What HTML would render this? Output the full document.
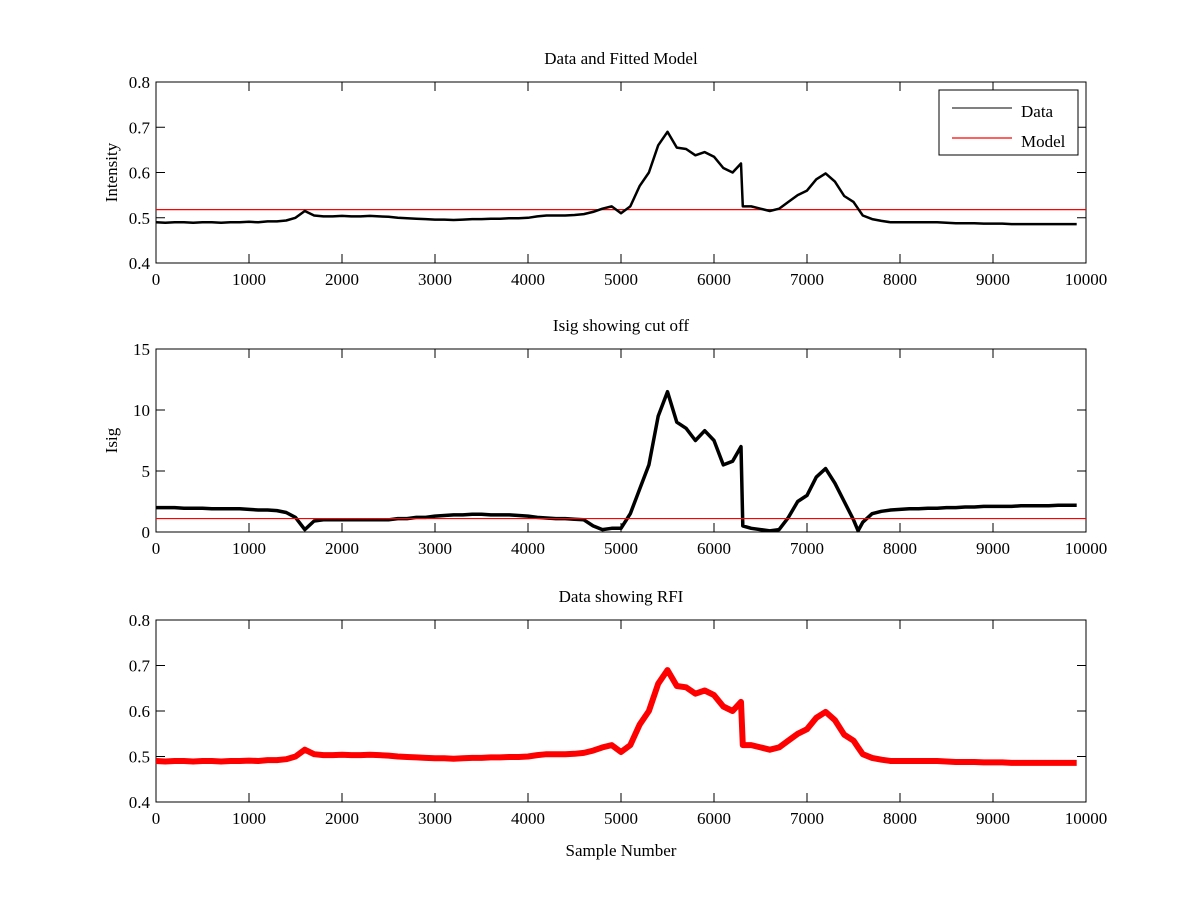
<!DOCTYPE html>
<html><head><meta charset="utf-8"><style>
body{margin:0;background:#fff}
svg text{font-family:"Liberation Serif",serif;font-size:17px;fill:#000}
</style></head><body>
<svg id="fig" width="1200" height="900" xmlns="http://www.w3.org/2000/svg"></svg>
<script>
const xs=[0,100,200,300,400,500,600,700,800,900,1000,1100,1200,1300,1400,1500,1600,1700,1800,1900,2000,2100,2200,2300,2400,2500,2600,2700,2800,2900,3000,3100,3200,3300,3400,3500,3600,3700,3800,3900,4000,4100,4200,4300,4400,4500,4600,4700,4800,4900,5000,5100,5200,5300,5400,5500,5600,5700,5800,5900,6000,6100,6200,6290,6310,6400,6500,6600,6700,6800,6900,7000,7100,7200,7300,7400,7500,7550,7600,7700,7800,7900,8000,8100,8200,8300,8400,8500,8600,8700,8800,8900,9000,9100,9200,9300,9400,9500,9600,9700,9800,9900];
const intensity=[0.49,0.489,0.49,0.49,0.489,0.49,0.49,0.489,0.49,0.49,0.491,0.49,0.492,0.492,0.494,0.5,0.515,0.505,0.503,0.503,0.504,0.503,0.503,0.504,0.503,0.502,0.5,0.499,0.498,0.497,0.496,0.496,0.495,0.496,0.497,0.497,0.498,0.498,0.499,0.499,0.5,0.503,0.505,0.505,0.505,0.506,0.508,0.513,0.52,0.525,0.51,0.525,0.57,0.6,0.66,0.69,0.655,0.652,0.638,0.645,0.635,0.61,0.6,0.62,0.525,0.525,0.52,0.515,0.52,0.535,0.55,0.56,0.585,0.598,0.58,0.548,0.535,0.52,0.505,0.497,0.493,0.49,0.49,0.49,0.49,0.49,0.49,0.489,0.488,0.488,0.488,0.487,0.487,0.487,0.486,0.486,0.486,0.486,0.486,0.486,0.486,0.486];
const isig=[2.0,2.0,2.0,1.95,1.95,1.95,1.9,1.9,1.9,1.9,1.85,1.8,1.8,1.75,1.6,1.2,0.2,0.9,1.0,1.0,1.0,1.0,1.0,1.0,1.0,1.0,1.1,1.1,1.2,1.2,1.3,1.35,1.4,1.4,1.45,1.45,1.4,1.4,1.4,1.35,1.3,1.2,1.15,1.1,1.1,1.05,1.0,0.5,0.2,0.3,0.3,1.5,3.5,5.5,9.5,11.5,9.0,8.5,7.5,8.3,7.5,5.5,5.8,7.0,0.5,0.3,0.2,0.1,0.2,1.2,2.5,3.0,4.5,5.2,4.0,2.5,1.0,0.1,0.8,1.5,1.7,1.8,1.85,1.9,1.9,1.95,1.95,2.0,2.0,2.05,2.05,2.1,2.1,2.1,2.1,2.15,2.15,2.15,2.15,2.2,2.2,2.2];
const modelLevel=[0.518];
const cutoff=[1.1];
const xTicks=[0,1000,2000,3000,4000,5000,6000,7000,8000,9000,10000];
const yTicks1=[0.4,0.5,0.6,0.7,0.8];
const yTicks2=[0,5,10,15];
const yTicks3=[0.4,0.5,0.6,0.7,0.8];
const NS="http://www.w3.org/2000/svg";
const svg=document.getElementById('fig');
function mk(tag,attrs,parent){const e=document.createElementNS(NS,tag);for(const k in attrs)e.setAttribute(k,attrs[k]);(parent||svg).appendChild(e);return e;}
const X0=156,X1=1086;
const sx=v=>X0+(v-0)/(10000-0)*(X1-X0);
function panel(name,top,bot,ymin,ymax,yt,title,ylabel,xlabel){
  const g=mk('g',{});
  
  
  const sy=v=>bot-(v-ymin)/(ymax-ymin)*(bot-top);
  const r=mk('rect',{x:X0,y:top,width:X1-X0,height:bot-top,fill:'#fff',stroke:'#000','stroke-width':1},g);
  
  
  xTicks.forEach(t=>{const x=sx(t);
    mk('line',{x1:x,y1:bot,x2:x,y2:bot-9,stroke:'#000'},g);
    mk('line',{x1:x,y1:top,x2:x,y2:top+9,stroke:'#000'},g);
    const tx=mk('text',{x:x,y:bot+22,'text-anchor':'middle','font-size':'16.5'},g);tx.textContent=t;
    
    
  });
  yt.forEach(t=>{const y=sy(t);
    mk('line',{x1:X0,y1:y,x2:X0+9,y2:y,stroke:'#000'},g);
    mk('line',{x1:X1,y1:y,x2:X1-9,y2:y,stroke:'#000'},g);
    const tx=mk('text',{x:X0-6,y:y+6,'text-anchor':'end','font-size':'16.5'},g);tx.textContent=t;
    
    
  });
  const tt=mk('text',{x:(X0+X1)/2,y:top-18,'text-anchor':'middle','font-size':'16.5'},g);tt.textContent=title;
  
  
  if(ylabel){const yl=mk('text',{x:0,y:0,'text-anchor':'middle',transform:`translate(117,${(top+bot)/2}) rotate(-90)`},g);yl.textContent=ylabel;
    
    }
  if(xlabel){const xl=mk('text',{x:(X0+X1)/2,y:bot+54,'text-anchor':'middle'},g);xl.textContent=xlabel;
    
    }
  return {g,sy};
}
function series(p,vals,color,w,name){
  const d=xs.map((x,i)=>(i?'L':'M')+sx(x).toFixed(1)+','+p.sy(vals[i]).toFixed(1)).join('');
  const e=mk('path',{d:d,fill:'none',stroke:color,'stroke-width':w,'stroke-linejoin':'round'},p.g);
  
  
}
function hline(p,v,name){
  const e=mk('line',{x1:X0,x2:X1,y1:p.sy(v),y2:p.sy(v),stroke:'#f00','stroke-width':1.2},p.g);
  
  
}
const p1=panel('panel-data-fitted-model',82,263,0.4,0.8,yTicks1,'Data and Fitted Model','Intensity');
hline(p1,modelLevel[0],'model-line');
series(p1,intensity,'#000',2.5,'data-line');
const lg=mk('g',{},p1.g);


mk('rect',{x:939,y:90,width:139,height:65,fill:'#fff',stroke:'#000'},lg);
mk('line',{x1:952,x2:1012,y1:108,y2:108,stroke:'#000'},lg);
mk('line',{x1:952,x2:1012,y1:138,y2:138,stroke:'#f00','stroke-width':1.2},lg);
let t=mk('text',{x:1021,y:117},lg);t.textContent='Data';


t=mk('text',{x:1021,y:147},lg);t.textContent='Model';


const p2=panel('panel-isig',349,532,0,15,yTicks2,'Isig showing cut off','Isig');
series(p2,isig,'#000',3.5,'isig-line');
hline(p2,cutoff[0],'cutoff-line');
const p3=panel('panel-rfi',620,802,0.4,0.8,yTicks3,'Data showing RFI',null,'Sample Number');
series(p3,intensity,'#f00',6,'rfi-line');
</script>
</body></html>
